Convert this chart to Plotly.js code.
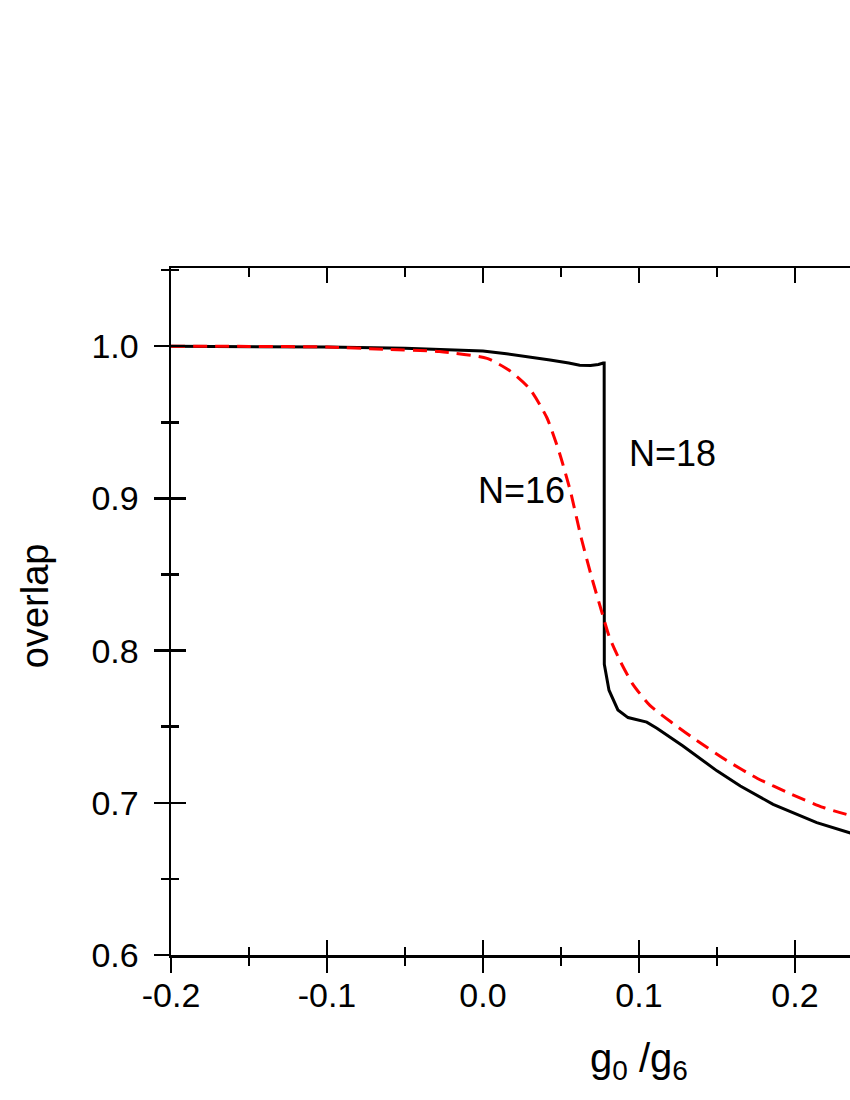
<!DOCTYPE html>
<html>
<head>
<meta charset="utf-8">
<script src="https://cdn.plot.ly/plotly-3.0.1.min.js"></script>
<style>
html, body { margin: 0; padding: 0; background: #fff; overflow: hidden; }
#chart { width: 850px; height: 1100px; }
</style>
</head>
<body>
<div id="chart"></div>
<script>
// N=18 (black solid)
const n18X = [-0.2, -0.15, -0.1, -0.05, -0.028, 0.0, 0.015, 0.03, 0.043, 0.055, 0.062, 0.069, 0.074, 0.0771, 0.0777, 0.0778, 0.0808, 0.0865, 0.093, 0.105, 0.1115, 0.128, 0.150, 0.165, 0.186, 0.214, 0.236];
const n18Y = [1.0, 0.9998, 0.9995, 0.9987, 0.998, 0.9968, 0.995, 0.993, 0.991, 0.989, 0.9875, 0.9873, 0.988, 0.989, 0.989, 0.791, 0.774, 0.761, 0.756, 0.753, 0.749, 0.7375, 0.721, 0.711, 0.699, 0.687, 0.680];
// N=16 (red dashed)
const n16X = [-0.2, -0.15, -0.1, -0.064, -0.028, 0.0026, 0.017, 0.030, 0.041, 0.049, 0.056, 0.063, 0.070, 0.076, 0.081, 0.088, 0.096, 0.107, 0.122, 0.137, 0.156, 0.176, 0.197, 0.218, 0.236];
const n16Y = [1.0, 0.9999, 0.9995, 0.998, 0.9965, 0.992, 0.984, 0.972, 0.953, 0.930, 0.905, 0.874, 0.847, 0.826, 0.809, 0.793, 0.778, 0.764, 0.752, 0.741, 0.728, 0.716, 0.706, 0.697, 0.6915];

const xTickVals = [-0.2, -0.1, 0.0, 0.1, 0.2];
const xTickText = ['-0.2', '-0.1', '0.0', '0.1', '0.2'];
const yTickVals = [0.6, 0.7, 0.8, 0.9, 1.0];
const yTickText = ['0.6', '0.7', '0.8', '0.9', '1.0'];
const labels = [
  {text: 'N=18', x: 0.1218, y: 0.9296},
  {text: 'N=16', x: 0.025, y: 0.905}
];

const FONT = 'Liberation Sans, Arial, sans-serif';
const xRange = [-0.2, 0.2353];
const yRange = [0.6, 1.0514];

const traces = [
  {x: n18X, y: n18Y, type: 'scatter', mode: 'lines', name: 'N=18',
   line: {color: '#000000', width: 3}},
  {x: n16X, y: n16Y, type: 'scatter', mode: 'lines', name: 'N=16',
   line: {color: '#ff0000', width: 3, dash: '14px,8px', shape: 'spline', smoothing: 0.6}},
  {x: [], y: [], xaxis: 'x2', yaxis: 'y', showlegend: false, hoverinfo: 'skip'},
  {x: [], y: [], xaxis: 'x3', yaxis: 'y', showlegend: false, hoverinfo: 'skip'},
  {x: [], y: [], xaxis: 'x', yaxis: 'y2', showlegend: false, hoverinfo: 'skip'}
];

const axBase = {showgrid: false, zeroline: false, tickcolor: '#000', tickwidth: 2.5};

const layout = {
  width: 850, height: 1100,
  margin: {l: 171, r: 0, t: 268, b: 145},
  paper_bgcolor: '#fff', plot_bgcolor: '#fff',
  showlegend: false,
  font: {family: FONT, color: '#000', size: 34},
  xaxis: Object.assign({}, axBase, {
    range: xRange, tickvals: xTickVals, ticktext: xTickText,
    ticks: 'outside', ticklen: 15,
    minor: {dtick: 0.05, tick0: 0, ticks: 'outside', ticklen: 8, tickwidth: 2.5, tickcolor: '#000'},
    showline: true, linecolor: '#000', linewidth: 2.5,
    tickfont: {family: FONT, size: 34, color: '#000'},
    ticklabelstandoff: -6
  }),
  xaxis2: Object.assign({}, axBase, {
    range: xRange, overlaying: 'x', anchor: 'y', side: 'bottom',
    tickvals: xTickVals, showticklabels: false,
    ticks: 'inside', ticklen: 15,
    minor: {dtick: 0.05, tick0: 0, ticks: 'inside', ticklen: 8, tickwidth: 2.5, tickcolor: '#000'},
    showline: false
  }),
  xaxis3: Object.assign({}, axBase, {
    range: xRange, overlaying: 'x', anchor: 'y', side: 'top',
    tickvals: xTickVals, showticklabels: false,
    ticks: 'inside', ticklen: 15,
    minor: {dtick: 0.05, tick0: 0, ticks: 'inside', ticklen: 9, tickwidth: 2.5, tickcolor: '#000'},
    showline: true, linecolor: '#000', linewidth: 2.5
  }),
  yaxis: Object.assign({}, axBase, {
    range: yRange, tickvals: yTickVals, ticktext: yTickText,
    ticks: 'outside', ticklen: 15,
    minor: {dtick: 0.05, tick0: 0, ticks: 'outside', ticklen: 8, tickwidth: 2.5, tickcolor: '#000'},
    showline: true, linecolor: '#000', linewidth: 2.5,
    tickfont: {family: FONT, size: 34, color: '#000'},
    ticklabelstandoff: 8
  }),
  yaxis2: Object.assign({}, axBase, {
    range: yRange, overlaying: 'y', anchor: 'x', side: 'left',
    tickvals: yTickVals, showticklabels: false,
    ticks: 'inside', ticklen: 15,
    minor: {dtick: 0.05, tick0: 0, ticks: 'inside', ticklen: 8, tickwidth: 2.5, tickcolor: '#000'},
    showline: false
  }),
  annotations: labels.map(l => ({
    text: l.text, x: l.x, y: l.y, xref: 'x', yref: 'y',
    showarrow: false, xanchor: 'center', yanchor: 'middle',
    font: {family: FONT, size: 36, color: '#000'}
  })).concat([
    {text: 'g<sub>0</sub> /g<sub>6</sub>', x: 0.1, xref: 'x', y: -0.155, yref: 'paper',
     showarrow: false, xanchor: 'center', yanchor: 'middle',
     font: {family: FONT, size: 40, color: '#000'}},
    {text: 'overlap', x: -0.2, xref: 'paper', y: 0.508, yref: 'paper', textangle: -90,
     showarrow: false, xanchor: 'center', yanchor: 'middle',
     font: {family: FONT, size: 38, color: '#000'}}
  ])
};

Plotly.newPlot('chart', traces, layout, {displayModeBar: false, staticPlot: true});
</script>
</body>
</html>
